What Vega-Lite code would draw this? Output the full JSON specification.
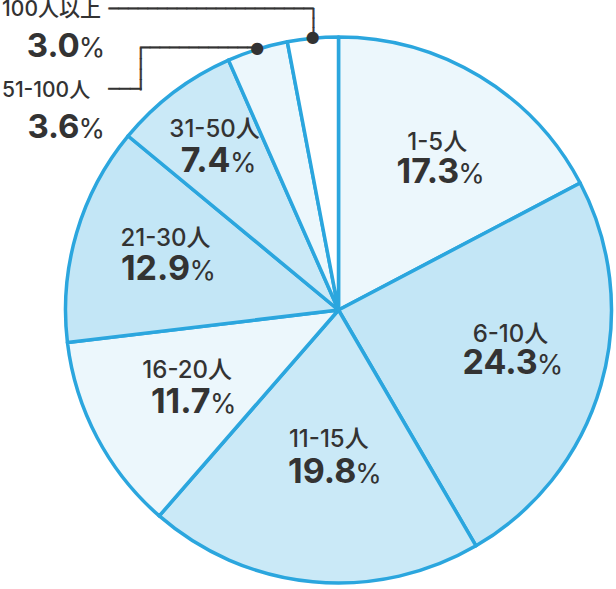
{
  "$schema": "https://vega.github.io/schema/vega-lite/v6.json",
  "width": 545,
  "height": 544,
  "autosize": {"type": "none"},
  "padding": {"left": 66, "top": 38, "right": 5, "bottom": 7},
  "background": "white",
  "config": {"view": {"stroke": null}},
  "data": {"values": [
    {"idx": 1, "cat": "1-5人", "pct": 17.3},
    {"idx": 2, "cat": "6-10人", "pct": 24.3},
    {"idx": 3, "cat": "11-15人", "pct": 19.8},
    {"idx": 4, "cat": "16-20人", "pct": 11.7},
    {"idx": 5, "cat": "21-30人", "pct": 12.9},
    {"idx": 6, "cat": "31-50人", "pct": 7.4},
    {"idx": 7, "cat": "51-100人", "pct": 3.6},
    {"idx": 8, "cat": "100人以上", "pct": 3.0}
  ]},
  "encoding": {
    "theta": {"field": "pct", "type": "quantitative", "stack": true},
    "order": {"field": "idx", "type": "quantitative"}
  },
  "layer": [
    {"mark": {"type": "arc", "radius": 273, "stroke": "#2ba6de", "strokeWidth": 3.5, "strokeJoin": "round"},
     "encoding": {"fill": {"field": "cat", "type": "nominal", "legend": null,
       "scale": {"domain": ["1-5人", "6-10人", "11-15人", "16-20人", "21-30人", "31-50人", "51-100人", "100人以上"],
                 "range": ["#ecf7fc", "#c3e6f6", "#cae9f7", "#ecf7fc", "#c3e6f6", "#cae9f7", "#ecf7fc", "#ffffff"]}}}},

    {"mark": {"type": "text", "radius": 173.7, "dx": 8.9, "dy": -11.3, "align": "center", "baseline": "alphabetic", "fontSize": 24, "fontWeight": 500, "font": "Inter, 'Noto Sans CJK JP'", "fill": "#333333"},
     "encoding": {"text": {"condition": {"test": "datum.idx == 1", "field": "cat"}, "value": ""}}},
    {"mark": {"type": "text", "radius": 173.7, "dx": 30.9, "dy": 22.0, "align": "right", "baseline": "alphabetic", "fontSize": 34, "fontWeight": "bold", "font": "Inter", "fill": "#333333"},
     "encoding": {"text": {"condition": {"test": "datum.idx == 1", "field": "pct", "type": "quantitative", "format": ".1f"}, "value": ""}}},
    {"mark": {"type": "text", "radius": 173.7, "dx": 29.9, "dy": 22.0, "align": "left", "baseline": "alphabetic", "fontSize": 27, "font": "Inter", "fill": "#333333"},
     "encoding": {"text": {"condition": {"test": "datum.idx == 1", "value": "%"}, "value": ""}}},

    {"mark": {"type": "text", "radius": 178.0, "dx": 0.9, "dy": -17.6, "align": "center", "baseline": "alphabetic", "fontSize": 24, "fontWeight": 500, "font": "Inter, 'Noto Sans CJK JP'", "fill": "#333333"},
     "encoding": {"text": {"condition": {"test": "datum.idx == 2", "field": "cat"}, "value": ""}}},
    {"mark": {"type": "text", "radius": 178.0, "dx": 28.2, "dy": 14.9, "align": "right", "baseline": "alphabetic", "fontSize": 34, "fontWeight": "bold", "font": "Inter", "fill": "#333333"},
     "encoding": {"text": {"condition": {"test": "datum.idx == 2", "field": "pct", "type": "quantitative", "format": ".1f"}, "value": ""}}},
    {"mark": {"type": "text", "radius": 178.0, "dx": 27.2, "dy": 14.9, "align": "left", "baseline": "alphabetic", "fontSize": 27, "font": "Inter", "fill": "#333333"},
     "encoding": {"text": {"condition": {"test": "datum.idx == 2", "value": "%"}, "value": ""}}},

    {"mark": {"type": "text", "radius": 156.2, "dx": 5.0, "dy": -18.2, "align": "center", "baseline": "alphabetic", "fontSize": 24, "fontWeight": 500, "font": "Inter, 'Noto Sans CJK JP'", "fill": "#333333"},
     "encoding": {"text": {"condition": {"test": "datum.idx == 3", "field": "cat"}, "value": ""}}},
    {"mark": {"type": "text", "radius": 156.2, "dx": 32.5, "dy": 17.8, "align": "right", "baseline": "alphabetic", "fontSize": 34, "fontWeight": "bold", "font": "Inter", "fill": "#333333"},
     "encoding": {"text": {"condition": {"test": "datum.idx == 3", "field": "pct", "type": "quantitative", "format": ".1f"}, "value": ""}}},
    {"mark": {"type": "text", "radius": 156.2, "dx": 31.5, "dy": 17.8, "align": "left", "baseline": "alphabetic", "fontSize": 27, "font": "Inter", "fill": "#333333"},
     "encoding": {"text": {"condition": {"test": "datum.idx == 3", "value": "%"}, "value": ""}}},

    {"mark": {"type": "text", "radius": 173.6, "dx": 2.1, "dy": -12.9, "align": "center", "baseline": "alphabetic", "fontSize": 24, "fontWeight": 500, "font": "Inter, 'Noto Sans CJK JP'", "fill": "#333333"},
     "encoding": {"text": {"condition": {"test": "datum.idx == 4", "field": "cat"}, "value": ""}}},
    {"mark": {"type": "text", "radius": 173.6, "dx": 25.4, "dy": 22.1, "align": "right", "baseline": "alphabetic", "fontSize": 34, "fontWeight": "bold", "font": "Inter", "fill": "#333333"},
     "encoding": {"text": {"condition": {"test": "datum.idx == 4", "field": "pct", "type": "quantitative", "format": ".1f"}, "value": ""}}},
    {"mark": {"type": "text", "radius": 173.6, "dx": 24.9, "dy": 22.1, "align": "left", "baseline": "alphabetic", "fontSize": 27, "font": "Inter", "fill": "#333333"},
     "encoding": {"text": {"condition": {"test": "datum.idx == 4", "value": "%"}, "value": ""}}},

    {"mark": {"type": "text", "radius": 179.4, "dx": -0.9, "dy": -13.9, "align": "center", "baseline": "alphabetic", "fontSize": 24, "fontWeight": 500, "font": "Inter, 'Noto Sans CJK JP'", "fill": "#333333"},
     "encoding": {"text": {"condition": {"test": "datum.idx == 5", "field": "cat"}, "value": ""}}},
    {"mark": {"type": "text", "radius": 179.4, "dx": 23.6, "dy": 20.1, "align": "right", "baseline": "alphabetic", "fontSize": 34, "fontWeight": "bold", "font": "Inter", "fill": "#333333"},
     "encoding": {"text": {"condition": {"test": "datum.idx == 5", "field": "pct", "type": "quantitative", "format": ".1f"}, "value": ""}}},
    {"mark": {"type": "text", "radius": 179.4, "dx": 23.1, "dy": 20.1, "align": "left", "baseline": "alphabetic", "fontSize": 27, "font": "Inter", "fill": "#333333"},
     "encoding": {"text": {"condition": {"test": "datum.idx == 5", "value": "%"}, "value": ""}}},

    {"mark": {"type": "text", "radius": 197.6, "dx": -4.8, "dy": -15.4, "align": "center", "baseline": "alphabetic", "fontSize": 24, "fontWeight": 500, "font": "Inter, 'Noto Sans CJK JP'", "fill": "#333333"},
     "encoding": {"text": {"condition": {"test": "datum.idx == 6", "field": "cat"}, "value": ""}}},
    {"mark": {"type": "text", "radius": 197.6, "dx": 11.2, "dy": 19.6, "align": "right", "baseline": "alphabetic", "fontSize": 34, "fontWeight": "bold", "font": "Inter", "fill": "#333333"},
     "encoding": {"text": {"condition": {"test": "datum.idx == 6", "field": "pct", "type": "quantitative", "format": ".1f"}, "value": ""}}},
    {"mark": {"type": "text", "radius": 197.6, "dx": 10.7, "dy": 19.6, "align": "left", "baseline": "alphabetic", "fontSize": 27, "font": "Inter", "fill": "#333333"},
     "encoding": {"text": {"condition": {"test": "datum.idx == 6", "value": "%"}, "value": ""}}},

    {"mark": {"type": "text", "radius": 274, "align": "center", "baseline": "middle", "fontSize": 16, "font": "DejaVu Sans", "fill": "#333333"},
     "encoding": {"text": {"condition": {"test": "datum.idx >= 7", "value": "●"}, "value": ""}}},

    {"mark": {"type": "text", "radius": 274, "dx": -204, "dy": -28.7, "align": "left", "baseline": "middle", "fontSize": 16.2, "font": "DejaVu Sans Mono", "fill": "#333333", "stroke": "#333333", "strokeWidth": 0.6},
     "encoding": {"text": {"condition": {"test": "datum.idx == 8", "value": "─────────────────────"}, "value": ""}}},
    {"mark": {"type": "text", "radius": 274, "angle": 90, "dx": -28.7, "dy": 0, "align": "left", "baseline": "middle", "fontSize": 15.9, "font": "DejaVu Sans Mono", "fill": "#333333", "stroke": "#333333", "strokeWidth": 0.6},
     "encoding": {"text": {"condition": {"test": "datum.idx == 8", "value": "───"}, "value": ""}}},
    {"mark": {"type": "text", "radius": 274, "dx": -116.9, "dy": 0, "align": "left", "baseline": "middle", "fontSize": 16.2, "font": "DejaVu Sans Mono", "fill": "#333333", "stroke": "#333333", "strokeWidth": 0.6},
     "encoding": {"text": {"condition": {"test": "datum.idx == 7", "value": "────────────"}, "value": ""}}},
    {"mark": {"type": "text", "radius": 274, "angle": 90, "dx": 0, "dy": 116.9, "align": "left", "baseline": "middle", "fontSize": 17.2, "font": "DejaVu Sans Mono", "fill": "#333333", "stroke": "#333333", "strokeWidth": 0.6},
     "encoding": {"text": {"condition": {"test": "datum.idx == 7", "value": "────"}, "value": ""}}},
    {"mark": {"type": "text", "radius": 274, "dx": -148.6, "dy": 41.4, "align": "left", "baseline": "middle", "fontSize": 18, "font": "DejaVu Sans Mono", "fill": "#333333", "stroke": "#333333", "strokeWidth": 0.6},
     "encoding": {"text": {"condition": {"test": "datum.idx == 7", "value": "───"}, "value": ""}}},

    {"mark": {"type": "text", "radius": 274, "dx": -310.6, "dy": -21.2, "align": "left", "baseline": "alphabetic", "fontSize": 21, "fontWeight": 500, "font": "Inter, 'Noto Sans CJK JP'", "fill": "#333333"},
     "encoding": {"text": {"condition": {"test": "datum.idx == 8", "field": "cat"}, "value": ""}}},
    {"mark": {"type": "text", "radius": 274, "dx": -233, "dy": 19.5, "align": "right", "baseline": "alphabetic", "fontSize": 33, "fontWeight": "bold", "font": "Inter", "fill": "#333333"},
     "encoding": {"text": {"condition": {"test": "datum.idx == 8", "field": "pct", "type": "quantitative", "format": ".1f"}, "value": ""}}},
    {"mark": {"type": "text", "radius": 274, "dx": -234, "dy": 19.5, "align": "left", "baseline": "alphabetic", "fontSize": 27, "font": "Inter", "fill": "#333333"},
     "encoding": {"text": {"condition": {"test": "datum.idx == 8", "value": "%"}, "value": ""}}},

    {"mark": {"type": "text", "radius": 274, "dx": -255.2, "dy": 48.7, "align": "left", "baseline": "alphabetic", "fontSize": 21, "fontWeight": 500, "font": "Inter, 'Noto Sans CJK JP'", "fill": "#333333"},
     "encoding": {"text": {"condition": {"test": "datum.idx == 7", "field": "cat"}, "value": ""}}},
    {"mark": {"type": "text", "radius": 274, "dx": -177.6, "dy": 90, "align": "right", "baseline": "alphabetic", "fontSize": 33, "fontWeight": "bold", "font": "Inter", "fill": "#333333"},
     "encoding": {"text": {"condition": {"test": "datum.idx == 7", "field": "pct", "type": "quantitative", "format": ".1f"}, "value": ""}}},
    {"mark": {"type": "text", "radius": 274, "dx": -178.6, "dy": 90, "align": "left", "baseline": "alphabetic", "fontSize": 27, "font": "Inter", "fill": "#333333"},
     "encoding": {"text": {"condition": {"test": "datum.idx == 7", "value": "%"}, "value": ""}}}
  ]
}
